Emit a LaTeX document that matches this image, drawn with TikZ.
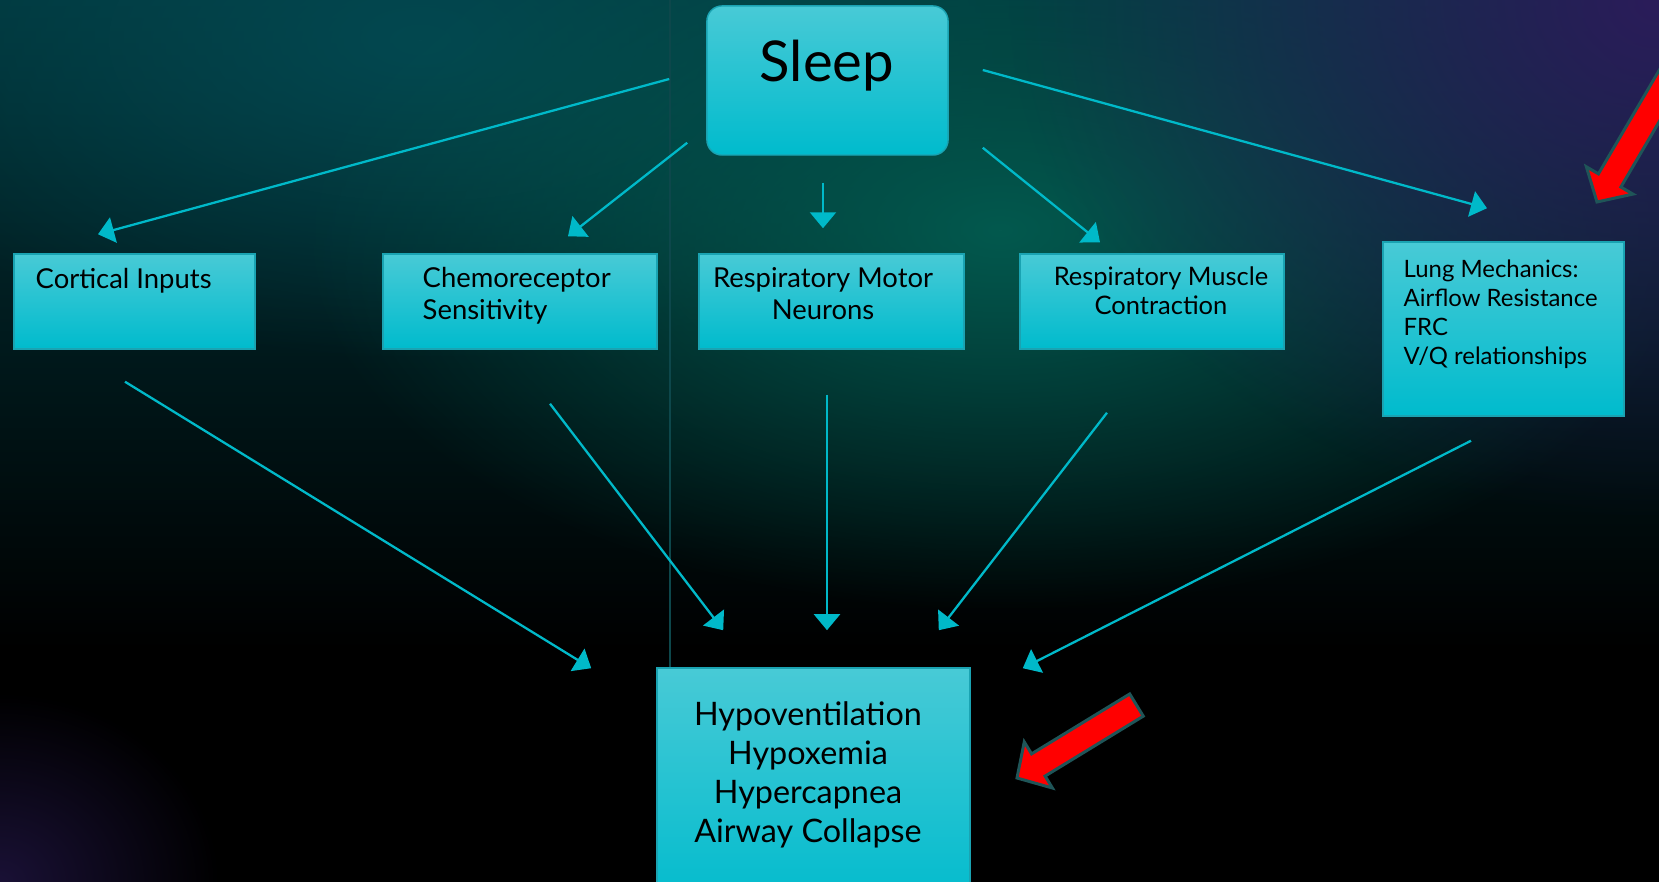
\documentclass[tikz,border=0pt]{standalone}
\usepackage{fontspec}
\setmainfont{Lato}
\usepackage{tikz}
\usetikzlibrary{arrows.meta,calc,fadings}
\tikzset{>={Triangle[length=1.6mm,width=2.6mm]}}
\definecolor{bgtop}{HTML}{01363C}
\definecolor{bgglow}{HTML}{03594E}
\definecolor{bgteal}{HTML}{034850}
\definecolor{bgpurp}{HTML}{2B1C5A}
\definecolor{bgseam}{HTML}{0D474B}
\definecolor{boxtop}{HTML}{48CAD6}
\definecolor{boxbot}{HTML}{00BBCD}
\definecolor{boxedge}{HTML}{1AA3B2}
\definecolor{flow}{HTML}{00B9C9}
\definecolor{warnedge}{HTML}{1F5558}
\tikzfading[name=glowfade,inner color=transparent!0,outer color=transparent!100]
\tikzset{
  box/.style={draw=boxedge,line width=0.4pt,top color=boxtop,bottom color=boxbot,inner sep=0pt},
  flowline/.style={->,draw=flow,line width=0.65pt},
  smalltxt/.style={inner sep=0pt,font=\fontsize{7.8}{9.1}\selectfont},
  lungtxt/.style={inner sep=0pt,font=\fontsize{6.8}{8.25}\selectfont},
  bigtxt/.style={inner sep=0pt,font=\fontsize{9.2}{11.1}\selectfont},
}
\newcommand{\backdrop}{%
  \fill[black] (0,0) rectangle (1659,882);
  \shade[top color=bgtop,bottom color=black] (0,0) rectangle (1659,650);
  \fill[bgteal,path fading=glowfade] (420,40) ellipse (620 and 320);
  \fill[bgglow,path fading=glowfade] (1000,230) ellipse (700 and 380);
  \fill[bgpurp,path fading=glowfade] (1659,0) ellipse (650 and 520);
  \fill[bgpurp!60!black,path fading=glowfade] (0,882) ellipse (220 and 190);
  \draw[bgseam,line width=0.4pt] (670,0) -- (670,882);
}
% red pointer: tip x, tip y, angle, length
\newcommand{\redarrow}[4]{%
  \filldraw[fill=red,draw=warnedge,line width=0.85pt,line join=miter,shift={(#1,#2)},rotate=#3]
    (0,0) -- (25,-27) -- (25,-13) -- (#4,-13) -- (#4,13) -- (25,13) -- (25,27) -- cycle;
}
\begin{document}
\begin{tikzpicture}[x=0.01cm,y=-0.01cm]
\useasboundingbox (0,0) rectangle (1659,882);
\clip (0,0) rectangle (1659,882);
\backdrop
% boxes
\node[box,rounded corners=0.15cm,minimum width=2.41cm,minimum height=1.49cm] (sleep) at (827.5,80.5) {};
\node[box,minimum width=2.41cm,minimum height=0.95cm] (cort) at (134.5,301.5) {};
\node[box,minimum width=2.74cm,minimum height=0.95cm] (chemo) at (520,301.5) {};
\node[box,minimum width=2.65cm,minimum height=0.95cm] (motor) at (831.5,301.5) {};
\node[box,minimum width=2.64cm,minimum height=0.95cm] (muscle) at (1152,301.5) {};
\node[box,minimum width=2.41cm,minimum height=1.74cm] (lung) at (1503.5,329) {};
\node[box,minimum width=3.13cm,minimum height=2.40cm] (hypo) at (813.5,788) {};
% texts (base = last line)
\node[inner sep=0pt,anchor=base,font=\fontsize{16}{19}\selectfont] (sleepT) at (827,82) {Sleep};
\node[smalltxt,anchor=base west] (cortT) at (35,289) {Cortical Inputs};
\node[smalltxt,anchor=base west,align=left] (chemoT) at (422,320) {Chemoreceptor\\Sensitivity};
\node[smalltxt,anchor=base,align=center] (motorT) at (823,320) {Respiratory Motor\\Neurons};
\node[inner sep=0pt,font=\fontsize{7.25}{8.5}\selectfont,anchor=base,align=center] (muscleT) at (1161,315) {Respiratory Muscle\\Contraction};
\node[lungtxt,anchor=base west,align=left] (lungT) at (1403,365) {Lung Mechanics:\\Airflow Resistance\\FRC\\V/Q relationships};
\node[bigtxt,anchor=base,align=center] (hypoT) at (808,843) {Hypoventilation\\Hypoxemia\\Hypercapnea\\Airway Collapse};
% sleep to factors
\draw[flowline] ($(sleep.west)+(-37,-1.5)$) -- ($(cort.north)+(-36.5,-19)$);
\draw[flowline] ($(sleep.south west)+(-19,-13)$) -- ($(chemo.north)+(48,-17)$);
\draw[flowline] ($(sleep.south)+(-4.5,27)$) -- ($(motor.north)+(-8.5,-25)$);
\draw[flowline] ($(sleep.south east)+(34,-8)$) -- ($(muscle.north)+(-52,-11)$);
\draw[flowline] ($(sleep.east)+(34,-10.5)$) -- ($(lung.north)+(-16.5,-33)$);
% factors to outcome
\draw[flowline] ($(cort.south)+(-9.5,32)$) -- ($(hypo.north west)+(-65,1)$);
\draw[flowline] ($(chemo.south)+(30,54)$) -- ($(hypo.north west)+(67,-37)$);
\draw[flowline] ($(motor.south)+(-4.5,45)$) -- ($(hypo.north)+(13.5,-37)$);
\draw[flowline] ($(muscle.south)+(-45,63)$) -- ($(hypo.north east)+(-32,-37)$);
\draw[flowline] ($(lung.south)+(-32.5,24)$) -- ($(hypo.north east)+(52,1)$);
% pointers
\redarrow{1017}{778}{31.4}{140}
\redarrow{1597}{202}{59.6}{260}
\end{tikzpicture}
\end{document}
